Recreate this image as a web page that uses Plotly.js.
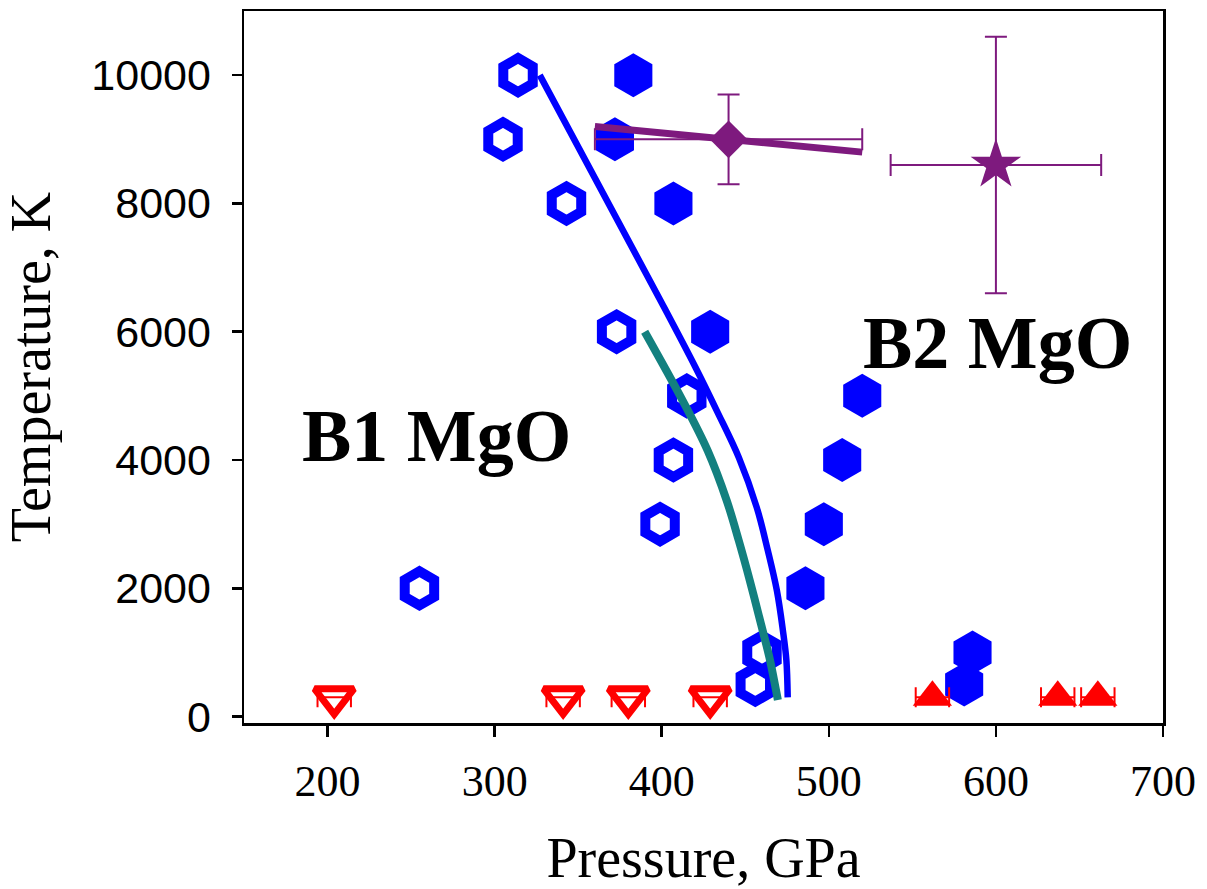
<!DOCTYPE html>
<html>
<head>
<meta charset="utf-8">
<script src="https://cdn.plot.ly/plotly-3.0.1.min.js"></script>
<style>html,body{margin:0;padding:0;background:#fff;}#chart{width:1207px;height:889px;}</style>
</head>
<body>
<div id="chart"></div>
<script>
// B1 MgO (open hexagons)
const b1Pressure = [314, 305, 343, 373, 415, 407, 399, 255, 460, 456];
const b1Temp     = [10000, 9000, 8000, 6000, 5000, 4000, 3000, 2000, 1000, 500];
// B2 MgO (filled hexagons)
const b2Pressure = [383, 372, 407, 429, 520, 508, 497, 486, 586, 581];
const b2Temp     = [10000, 9000, 8000, 6000, 5000, 4000, 3000, 2000, 1000, 500];
// Room-temperature experiments
const rtB1Pressure = [204, 341, 380, 429];
const rtB1Temp     = [300, 300, 300, 300];
const rtB2Pressure = [562, 637, 661];
const rtB2Temp     = [300, 300, 300];
const rtPressureErr = 10;
// Blue phase boundary
const blueCurveP = [327, 399.4, 420.4, 433, 446.2, 456.9, 463.5, 468.9, 472.5, 474.6, 475.4];
const blueCurveT = [10000, 6480, 5435, 4767, 4036, 3258, 2589, 1967, 1345, 879, 300];
// Teal phase boundary
const tealCurveP = [389.8, 412.6, 427.5, 438.9, 446.1, 452.7, 459.3, 464.4, 469.5];
const tealCurveT = [6000, 4922, 4145, 3367, 2745, 2123, 1454, 926, 257];
// Purple line through diamond
const purpleLineP = [360, 520];
const purpleLineT = [9200, 8800];
// Diamond point
const diamondP = [440], diamondT = [9000], diamondPErr = [80], diamondTErr = [700];
// Star point
const starP = [600], starT = [8600], starPErr = [63], starTErr = [2000];
// Axis ticks
const xTicks = [200, 300, 400, 500, 600, 700];
const yTicks = [0, 2000, 4000, 6000, 8000, 10000];

const BLUE = '#0000FF', TEAL = '#13807F', RED = '#FF0000', PURPLE = '#7E1A7E';

const traces = [
  {x: b1Pressure, y: b1Temp, mode: 'markers', type: 'scatter',
   marker: {symbol: 'hexagon-open', size: 34, color: BLUE, line: {width: 10, color: BLUE}}},
  {x: b2Pressure, y: b2Temp, mode: 'markers', type: 'scatter',
   marker: {symbol: 'hexagon', size: 44, color: BLUE, line: {width: 0}}},
  {x: blueCurveP, y: blueCurveT, mode: 'lines', type: 'scatter',
   line: {color: BLUE, width: 6.5, shape: 'spline', smoothing: 1}},
  {x: tealCurveP, y: tealCurveT, mode: 'lines', type: 'scatter',
   line: {color: TEAL, width: 8, shape: 'spline', smoothing: 1}},
  {x: rtB1Pressure, y: rtB1Temp, mode: 'markers', type: 'scatter',
   error_x: {type: 'constant', value: rtPressureErr, color: RED, thickness: 2, width: 10},
   marker: {symbol: 'triangle-down-open', size: 34, color: RED, line: {width: 7, color: RED}}},
  {x: rtB2Pressure, y: rtB2Temp, mode: 'markers', type: 'scatter',
   error_x: {type: 'constant', value: rtPressureErr, color: RED, thickness: 2, width: 10},
   marker: {symbol: 'triangle-up', size: 34, color: RED, line: {width: 0}}},
  {x: purpleLineP, y: purpleLineT, mode: 'lines', type: 'scatter',
   line: {color: PURPLE, width: 7}},
  {x: diamondP, y: diamondT, mode: 'markers', type: 'scatter',
   error_x: {type: 'data', array: diamondPErr, color: PURPLE, thickness: 2, width: 11},
   error_y: {type: 'data', array: diamondTErr, color: PURPLE, thickness: 2, width: 11},
   marker: {symbol: 'diamond', size: 29, color: PURPLE, line: {width: 0}}},
  {x: starP, y: starT, mode: 'markers', type: 'scatter',
   error_x: {type: 'data', array: starPErr, color: PURPLE, thickness: 2, width: 11},
   error_y: {type: 'data', array: starTErr, color: PURPLE, thickness: 2, width: 11},
   marker: {symbol: 'star', size: 38, color: PURPLE, line: {width: 0}}}
];

const layout = {
  width: 1207, height: 889,
  margin: {l: 244, r: 44, t: 11, b: 166},
  paper_bgcolor: '#fff', plot_bgcolor: '#fff',
  showlegend: false,
  xaxis: {
    range: [150, 700], tickvals: xTicks, ticktext: xTicks.map(String),
    showgrid: false, zeroline: false, showline: true, mirror: true,
    linecolor: '#000', linewidth: 2.5, ticks: 'outside', ticklen: 11, tickwidth: 2.5, tickcolor: '#000',
    tickfont: {family: 'Liberation Serif, Times New Roman, serif', size: 44, color: '#000'},
    ticklabelstandoff: 7,
    title: {text: 'Pressure, GPa', font: {family: 'Liberation Serif, Times New Roman, serif', size: 56, color: '#000'}, standoff: 40}
  },
  yaxis: {
    range: [-100, 11000], tickvals: yTicks, ticktext: yTicks.map(String),
    showgrid: false, zeroline: false, showline: true, mirror: true,
    linecolor: '#000', linewidth: 2.5, ticks: 'outside', ticklen: 10, tickwidth: 2.5, tickcolor: '#000',
    tickfont: {family: 'Liberation Sans, Arial, sans-serif', size: 43, color: '#000'},
    ticklabelstandoff: 12,
    title: {text: 'Temperature, K', font: {family: 'Liberation Serif, Times New Roman, serif', size: 56, color: '#000'}, standoff: 26}
  },
  annotations: [
    {x: 265, y: 4380, xref: 'x', yref: 'y', text: '<b>B1 MgO</b>', showarrow: false,
     font: {family: 'Liberation Serif, Times New Roman, serif', size: 74, color: '#000'}},
    {x: 601, y: 5830, xref: 'x', yref: 'y', text: '<b>B2 MgO</b>', showarrow: false,
     font: {family: 'Liberation Serif, Times New Roman, serif', size: 74, color: '#000'}}
  ]
};

Plotly.newPlot('chart', traces, layout, {displayModeBar: false, staticPlot: true});
</script>
</body>
</html>
